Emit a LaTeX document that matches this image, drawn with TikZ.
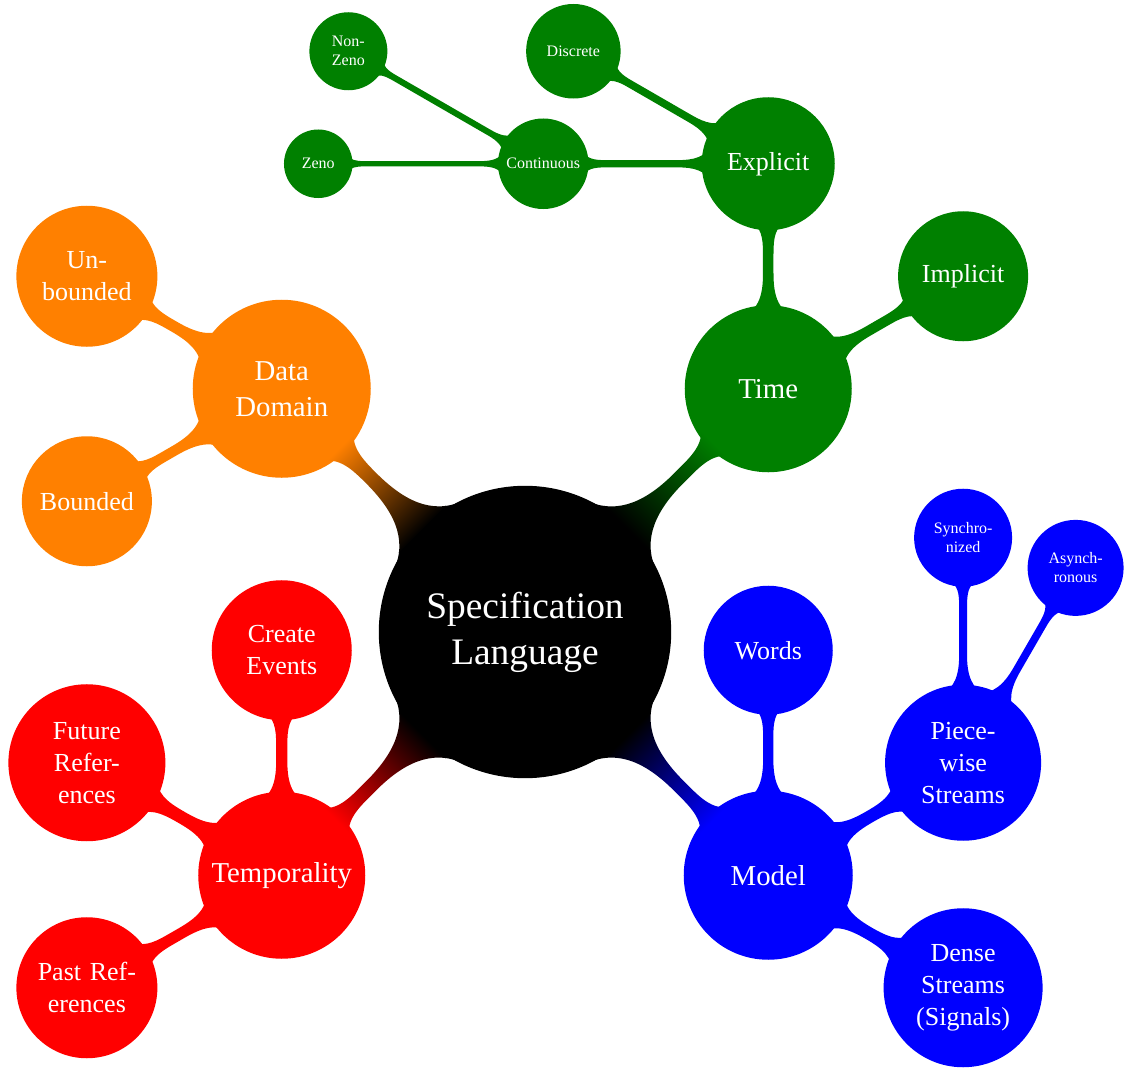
\documentclass[tikz,border=0pt]{standalone}
\usepackage{fontspec}
\setmainfont{Liberation Serif}
\usetikzlibrary{mindmap}
\definecolor{mmgreen}{RGB}{0,128,0}
\definecolor{mmorange}{RGB}{255,128,0}
\definecolor{mmred}{RGB}{255,0,0}
\definecolor{mmblue}{RGB}{0,0,255}
\begin{document}
\begin{tikzpicture}[
  x=0.5pt, y=0.5pt,
  mindmap,
  text=white,
  every concept/.append style={align=center, inner sep=0pt},
  rootc/.style={concept, minimum size=#1, text width=100pt, font=\fontsize{18.7}{23}\selectfont},
  lone/.style={concept, minimum size=#1, text width=72pt, font=\fontsize{14.4}{18}\selectfont},
  ltwo/.style={concept, minimum size=#1, text width=50pt, font=\fontsize{13}{16}\selectfont},
  lthree/.style={concept, minimum size=#1, text width=38pt, font=\fontsize{8}{9.5}\selectfont},
  lfour/.style={concept, minimum size=#1, text width=20pt, font=\fontsize{8}{9.5}\selectfont},
  level 1/.append style={level distance=172pt, line width=6.5pt},
  level 2/.append style={level distance=112.5pt, line width=6.5pt},
  level 3/.append style={level distance=112.5pt, line width=3.75pt},
  level 4/.append style={level distance=112.5pt, line width=3.75pt},
]
\useasboundingbox (-525,-439) rectangle (599,632);
\node[rootc=145pt, concept color=black] (root) at (0,0) {Specification\\Language}
  child[grow=45, concept color=mmgreen] { node[lone=77pt] (time) {Time}
    child[grow=90] { node[ltwo=60pt] (explicit) {Explicit}
      child[grow=150] { node[lthree=43.5pt] (discrete) {Discrete} }
      child[grow=180] { node[lthree=41.5pt] (continuous) {Continuous}
        child[grow=150] { node[lfour=35.25pt] (nonzeno) {Non-\\Zeno} }
        child[grow=180] { node[lfour=30.5pt] (zeno) {Zeno} }
      }
    }
    child[grow=30] { node[ltwo=58.5pt] (implicit) {Implicit} }
  }
  child[grow=-45, concept color=mmblue] { node[lone=78pt] (model) {Model}
    child[grow=90] { node[ltwo=58pt] (words) {Words} }
    child[grow=30] { node[ltwo=71.5pt] (piecewise) {Piece-\\wise\\Streams}
      child[grow=90] { node[lthree=45.25pt] (sync) {Synchro-\\nized} }
      child[grow=60] { node[lthree=44.25pt] (async) {Asynch-\\ronous} }
    }
    child[grow=-30] { node[ltwo=73pt] (dense) {Dense\\Streams\\(Signals)} }
  }
  child[grow=135, concept color=mmorange] { node[lone=82.5pt] (data) {Data\\Domain}
    child[grow=150] { node[ltwo=64pt] (unbounded) {Un-\\bounded} }
    child[grow=210] { node[ltwo=58.5pt] (bounded) {Bounded} }
  }
  child[grow=-135, concept color=mmred] { node[lone=77pt] (temp) {Temporality}
    child[grow=90] { node[ltwo=63.5pt] (create) {Create\\Events} }
    child[grow=150] { node[ltwo=72pt] (future) {Future\\Refer-\\ences} }
    child[grow=210] { node[ltwo=64pt] (past) {Past Ref-\\erences} }
  };
\end{tikzpicture}
\end{document}
